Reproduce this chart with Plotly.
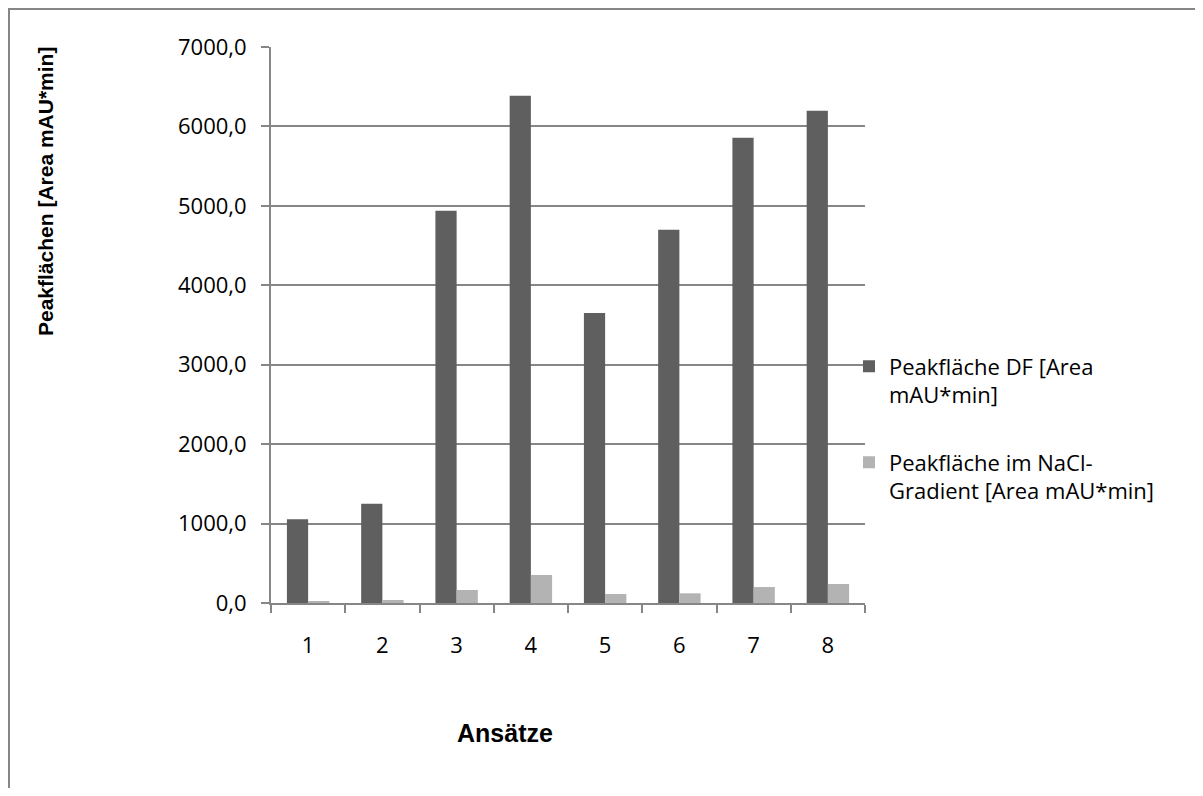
import plotly.graph_objects as go

categories = ["1", "2", "3", "4", "5", "6", "7", "8"]
peak_df = [1054, 1251, 4937, 6385, 3652, 4698, 5856, 6196]
peak_nacl = [25, 38, 164, 353, 113, 122, 201, 239]
series_names = ["Peakfläche DF [Area<br>mAU*min]", "Peakfläche im NaCl-<br>Gradient [Area mAU*min]"]
y_ticks = [0, 1000, 2000, 3000, 4000, 5000, 6000, 7000]

# page has an 8px body margin; figure coordinates = page coordinates - OFF
OFF = 8
W, H = 1203 - 2 * OFF, 796 - 2 * OFF
L, R, T, B = 271 - OFF, 865 - OFF, 47 - OFF, 603 - OFF

def px(x):  # page x -> paper
    return (x - OFF - L) / (R - L)

def py(y):  # page y -> paper
    return (B - (y - OFF)) / (B - T)

tick_font = dict(family="Open Sans, Noto Sans, sans-serif", size=22, color="#000000")

fig = go.Figure()
fig.add_trace(go.Bar(x=categories, y=peak_df, name=series_names[0],
                     marker=dict(color="#5f5f5f", line=dict(width=0)), legend="legend"))
fig.add_trace(go.Bar(x=categories, y=peak_nacl, name=series_names[1],
                     marker=dict(color="#b3b3b3", line=dict(width=0)), legend="legend2"))

legend_common = dict(font=tick_font, bgcolor="rgba(0,0,0,0)", xanchor="left", yanchor="middle",
                     itemwidth=30, valign="top", tracegroupgap=0)

fig.update_layout(
    width=W, height=H,
    margin=dict(l=L, r=W - R, t=T, b=H - B, pad=0),
    plot_bgcolor="#ffffff", paper_bgcolor="#ffffff",
    barmode="group", bargap=1.5 / 3.5, bargroupgap=0,
    separators=",.",
    showlegend=True,
    legend=dict(x=px(849), y=py(381), **legend_common),
    legend2=dict(x=px(849), y=py(477), **legend_common),
    xaxis=dict(
        type="category", showline=True, linecolor="#868686", linewidth=2,
        ticks="outside", tickson="boundaries", ticklen=8, tickwidth=2, tickcolor="#868686",
        tickfont=tick_font, ticklabelstandoff=22, showgrid=False, zeroline=False,
    ),
    yaxis=dict(
        range=[0, 7000], tickvals=y_ticks, tickformat=".1f",
        showline=True, linecolor="#868686", linewidth=2,
        ticks="outside", ticklen=8, tickwidth=2, tickcolor="#868686",
        tickfont=tick_font, ticklabelstandoff=10,
        showgrid=True, gridcolor="#868686", gridwidth=2, zeroline=False,
    ),
    annotations=[
        dict(text="<b>Ansätze</b>", x=px(505), y=py(733), xref="paper", yref="paper",
             showarrow=False, xanchor="center", yanchor="middle",
             font=dict(family="Liberation Sans, Arial, sans-serif", size=25, color="#000000")),
        dict(text="<b>Peakflächen [Area mAU*min]</b>", x=px(45), y=py(192), xref="paper", yref="paper",
             showarrow=False, xanchor="center", yanchor="middle", textangle=-90,
             font=dict(family="Liberation Sans, Arial, sans-serif", size=21, color="#000000")),
    ],
    shapes=[
        dict(type="path", xref="paper", yref="paper",
             path=f"M {px(9)},{py(800)} L {px(9)},{py(9)} L {px(1210)},{py(9)}",
             line=dict(color="#868686", width=2)),
    ],
)

fig.write_html("out.html")
